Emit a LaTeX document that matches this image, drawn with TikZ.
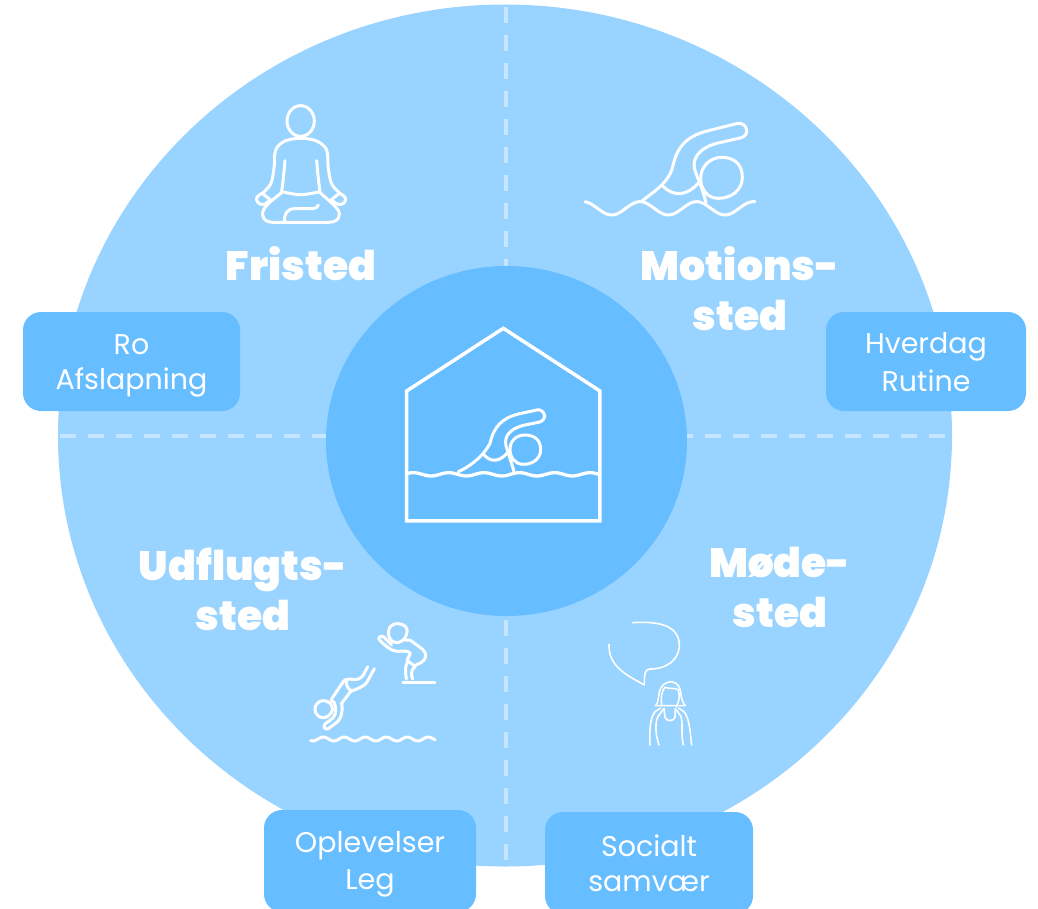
\documentclass[tikz,border=0pt]{standalone}
\usepackage{fontspec}
\newfontfamily\titlefont{Poppins Black}
\newfontfamily\labelfont{Poppins}
\newcommand{\lstrut}{\rule[-6.5pt]{0pt}{35pt}}
\definecolor{outerblue}{HTML}{99D3FF}
\definecolor{innerblue}{HTML}{66BDFF}
\definecolor{dashblue}{HTML}{C6E6FF}
\tikzset{
  dashline/.style={draw=dashblue,line width=4pt,dash pattern=on 16pt off 12pt},
  iconline/.style={draw=white,line width=3pt,line cap=round,line join=round},
  labelbox/.style={fill=innerblue,rounded corners=18pt,text=white,align=center,inner sep=0pt,
    font=\labelfont\fontsize{28.5}{35}\selectfont},
  titletext/.style={text=white,align=center,inner sep=0pt,font=\titlefont\fontsize{41}{50}\selectfont},
}
\begin{document}
\begin{tikzpicture}[x=1pt,y=-1pt]
\useasboundingbox (0,0) rectangle (1038,908);
\clip (0,0) rectangle (1038,908);
\fill[outerblue] (505,435.5) ellipse [x radius=447,y radius=431];
\draw[dashline] (506,7) -- (506,270);
\draw[dashline] (506,620) -- (506,864);
\draw[dashline] (60,436) -- (330,436);
\draw[dashline] (945,436) -- (680,436);
\fill[innerblue] (506.5,441) ellipse [x radius=180.5,y radius=175];

\node[labelbox,minimum width=217pt,minimum height=99pt] (ro) at (131.5,361.5) {\lstrut Ro\\\lstrut Afslapning};
\node[labelbox,minimum width=200pt,minimum height=99pt] (hverdag) at (926,361.5) {\lstrut Hverdag\\\lstrut Rutine};
\node[labelbox,minimum width=212pt,minimum height=102pt] (oplevelser) at (370,861) {\lstrut Oplevelser\\\lstrut Leg};
\node[labelbox,minimum width=208pt,minimum height=102pt] (socialt) at (649,863) {\lstrut Socialt\\\lstrut samvær};

\node[titletext] (fristed) at (301,264) {Fristed};
\node[titletext] (motion) at (740,289) {Motions-\\sted};
\node[titletext] (udflugt) at (243,589) {Udflugts-\\sted};
\node[titletext] (moede) at (780,587) {Møde-\\sted};

% meditating figure
\begin{scope}[shift={(230,90)},x=0.3333pt,y=-0.3333pt]
\draw[iconline] (212,93) ellipse [x radius=41,y radius=46];
\draw[iconline] plot[smooth,tension=.55] coordinates {(95,312) (122,282) (132,235) (137,180) (165,153) (212,145) (260,153) (290,180) (295,235) (305,282) (332,312)};
\draw[iconline] plot[smooth,tension=.6] coordinates {(165,212) (160,265) (155,305)};
\draw[iconline] plot[smooth,tension=.6] coordinates {(260,212) (265,265) (270,305)};
\draw[iconline] plot[smooth,tension=.6] coordinates {(155,305) (212,314) (270,305)};
\draw[iconline] (155,308) .. controls (120,335) and (95,355) .. (98,375) .. controls (100,392) and (115,397) .. (130,397) -- (295,397) .. controls (315,397) and (328,390) .. (328,372) .. controls (328,355) and (300,335) .. (270,308);
\draw[iconline] (265,345) .. controls (262,355) and (250,356) .. (240,356) -- (195,356) .. controls (170,356) and (160,375) .. (165,397);
\draw[iconline] (97,310) -- (122,330) (97,310) .. controls (85,315) and (78,322) .. (80,330) .. controls (83,342) and (95,346) .. (105,342) -- (122,330);
\draw[iconline] (328,310) -- (303,330) (328,310) .. controls (340,315) and (348,322) .. (347,330) .. controls (344,342) and (332,346) .. (322,342) -- (303,330);
\end{scope}

% swimmer, upper right
\begin{scope}[shift={(570,100)},x=0.3333pt,y=-0.3333pt]
\draw[iconline] (455,172) .. controls (495,172) and (517,195) .. (517,232) .. controls (517,270) and (485,295) .. (445,295) .. controls (410,295) and (392,265) .. (392,235) .. controls (392,200) and (420,172) .. (455,172) -- cycle;
\draw[iconline] (217,302) .. controls (260,270) and (295,245) .. (307,205) .. controls (320,140) and (350,108) .. (415,92) -- (500,71) .. controls (530,62) and (545,108) .. (510,114) -- (440,130) .. controls (385,145) and (360,180) .. (378,220) .. controls (385,240) and (395,260) .. (408,307);
\draw[iconline] (278,258) .. controls (310,290) and (350,290) .. (386,248);
\draw[iconline] plot[domain=45:555,samples=80,smooth] (\x,{325-20*cos((\x-40)/170*360)});
\end{scope}

% house with swimmer
\begin{scope}[shift={(390,310)},x=0.3333pt,y=-0.3333pt]
\draw[draw=white,line width=3.5pt,line join=miter] (50,633) -- (50,243) -- (340,55) -- (630,243) -- (630,633) -- cycle;
\draw[draw=white,line width=3.3pt] plot[domain=52:628,samples=120,smooth] (\x,{493-5*cos((\x-70)/106*360)});
\draw[iconline] (405,375) .. controls (435,375) and (452,392) .. (452,418) .. controls (452,445) and (430,463) .. (400,463) .. controls (375,463) and (360,442) .. (360,418) .. controls (360,392) and (380,375) .. (405,375) -- cycle;
\draw[iconline] (205,485) .. controls (250,465) and (285,430) .. (300,400) .. controls (312,350) and (335,325) .. (385,312) -- (440,300) .. controls (465,295) and (475,332) .. (445,337) -- (405,345) .. controls (360,355) and (335,380) .. (352,420) .. controls (358,440) and (365,460) .. (372,485);
\draw[iconline] (280,432) .. controls (300,458) and (330,458) .. (355,425);
\end{scope}

% divers
\begin{scope}[shift={(295,610)},x=0.3333pt,y=-0.3333pt]
\draw[iconline] plot[smooth cycle,tension=.8] coordinates {(308,41) (332,50) (335,72) (322,92) (300,97) (284,84) (281,62) (290,47)};
\draw[iconline] (330,90) -- (345,90) -- (382,117) .. controls (397,130) and (395,148) .. (378,158) -- (358,168) .. controls (350,160) and (340,155) .. (336,152) -- (346,130) .. controls (340,122) and (325,122) .. (310,124) .. controls (290,125) and (275,110) .. (255,92) .. controls (245,85) and (258,72) .. (268,82) .. controls (275,90) and (285,100) .. (290,105);
\draw[iconline] (338,155) .. controls (328,170) and (332,190) .. (334,207);
\draw[iconline] (360,170) .. controls (347,180) and (348,195) .. (353,207);
\draw[iconline] (324,217) -- (420,217);
\draw[iconline] plot[smooth cycle,tension=.8] coordinates {(85,272) (105,280) (112,298) (103,315) (85,323) (67,315) (60,298) (67,280)};
\draw[iconline] (108,270) -- (140,222) .. controls (148,208) and (155,206) .. (165,207) .. controls (190,212) and (197,205) .. (205,195) -- (218,170);
\draw[iconline] (238,176) -- (215,218) .. controls (205,230) and (190,235) .. (170,243) .. controls (155,235) and (152,220) .. (155,208);
\draw[iconline] (168,243) -- (140,280) .. controls (145,310) and (135,335) .. (115,345) -- (98,357) .. controls (85,358) and (85,345) .. (92,340) .. controls (115,325) and (130,315) .. (118,278) -- (108,270);
\draw[iconline] plot[domain=47:420,samples=90,smooth] (\x,{387-6*cos((\x-85)/63*360)});
\end{scope}

% speech bubble and person
\begin{scope}[shift={(590,610)},x=0.3333pt,y=-0.3333pt]
\draw[draw=white,line width=1.6pt,line cap=round,line join=round] (127,38) .. controls (205,33) and (270,45) .. (268,110) .. controls (265,150) and (230,177) .. (180,177) .. controls (165,178) and (163,190) .. (163,225) .. controls (110,195) and (55,170) .. (57,103);
\begin{scope}[draw=white,line width=1.6pt,line cap=round,line join=round]
\draw (197,287) .. controls (205,280) and (205,260) .. (208,245) .. controls (212,225) and (230,215) .. (245,215) .. controls (265,218) and (272,235) .. (273,255) .. controls (275,270) and (280,280) .. (286,287) -- (197,287);
\draw (215,287) .. controls (212,265) and (215,240) .. (225,232) .. controls (240,238) and (255,232) .. (265,240) .. controls (270,260) and (268,275) .. (258,290);
\draw (222,295) -- (225,322) .. controls (230,335) and (250,335) .. (255,322) -- (256,295);
\draw (180,405) .. controls (178,360) and (180,325) .. (195,305) -- (212,294);
\draw (207,405) .. controls (195,370) and (195,335) .. (205,318) -- (220,298);
\draw (305,405) .. controls (300,360) and (298,325) .. (282,305) -- (265,294);
\draw (280,405) .. controls (272,370) and (280,335) .. (272,318) -- (258,298);
\end{scope}
\end{scope}
\end{tikzpicture}
\end{document}
